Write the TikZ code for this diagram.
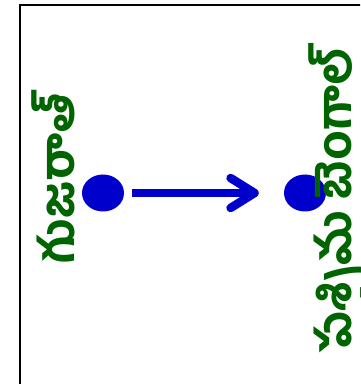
\documentclass[tikz,border=0pt]{standalone}
\usepackage{fontspec}
\usepackage{tikz}
\usetikzlibrary{arrows.meta,shapes.geometric,positioning}
\newfontfamily\telugu[Script=Telugu,BoldFont={Hind Guntur Bold}]{Hind Guntur}
\definecolor{stateblue}{RGB}{0,0,204}
\definecolor{labelgreen}{RGB}{0,100,0}

\begin{document}
\begin{tikzpicture}[x=1pt,y=1pt,
    state/.style={ellipse, fill=stateblue, minimum width=42pt, minimum height=37pt, inner sep=0pt},
    place/.style={rotate=90, text=labelgreen, font=\telugu\bfseries\fontsize{47}{56}\selectfont, inner sep=0pt}]
    \clip (0,0) rectangle (360,384);

    % Frame
    \draw[line width=2pt] (20,-20) -- (20,379) -- (400,379);

    % States
    \node[state] (gj) at (103,191) {};
    \node[state] (wb) at (305,191) {};

    % Labels
    \node[place] (gjlabel) at (53,206) {గుజరాత్};
    \node[place] (wblabel) at (342,184) {పశ్చిమ బెంగాల్};

    % Transition
    \draw[stateblue, line width=8.5pt, shorten <=8pt, shorten >=25pt,
        -{Straight Barb[length=24pt,width=30pt,round]}] (gj) -- (wb);
\end{tikzpicture}
\end{document}
